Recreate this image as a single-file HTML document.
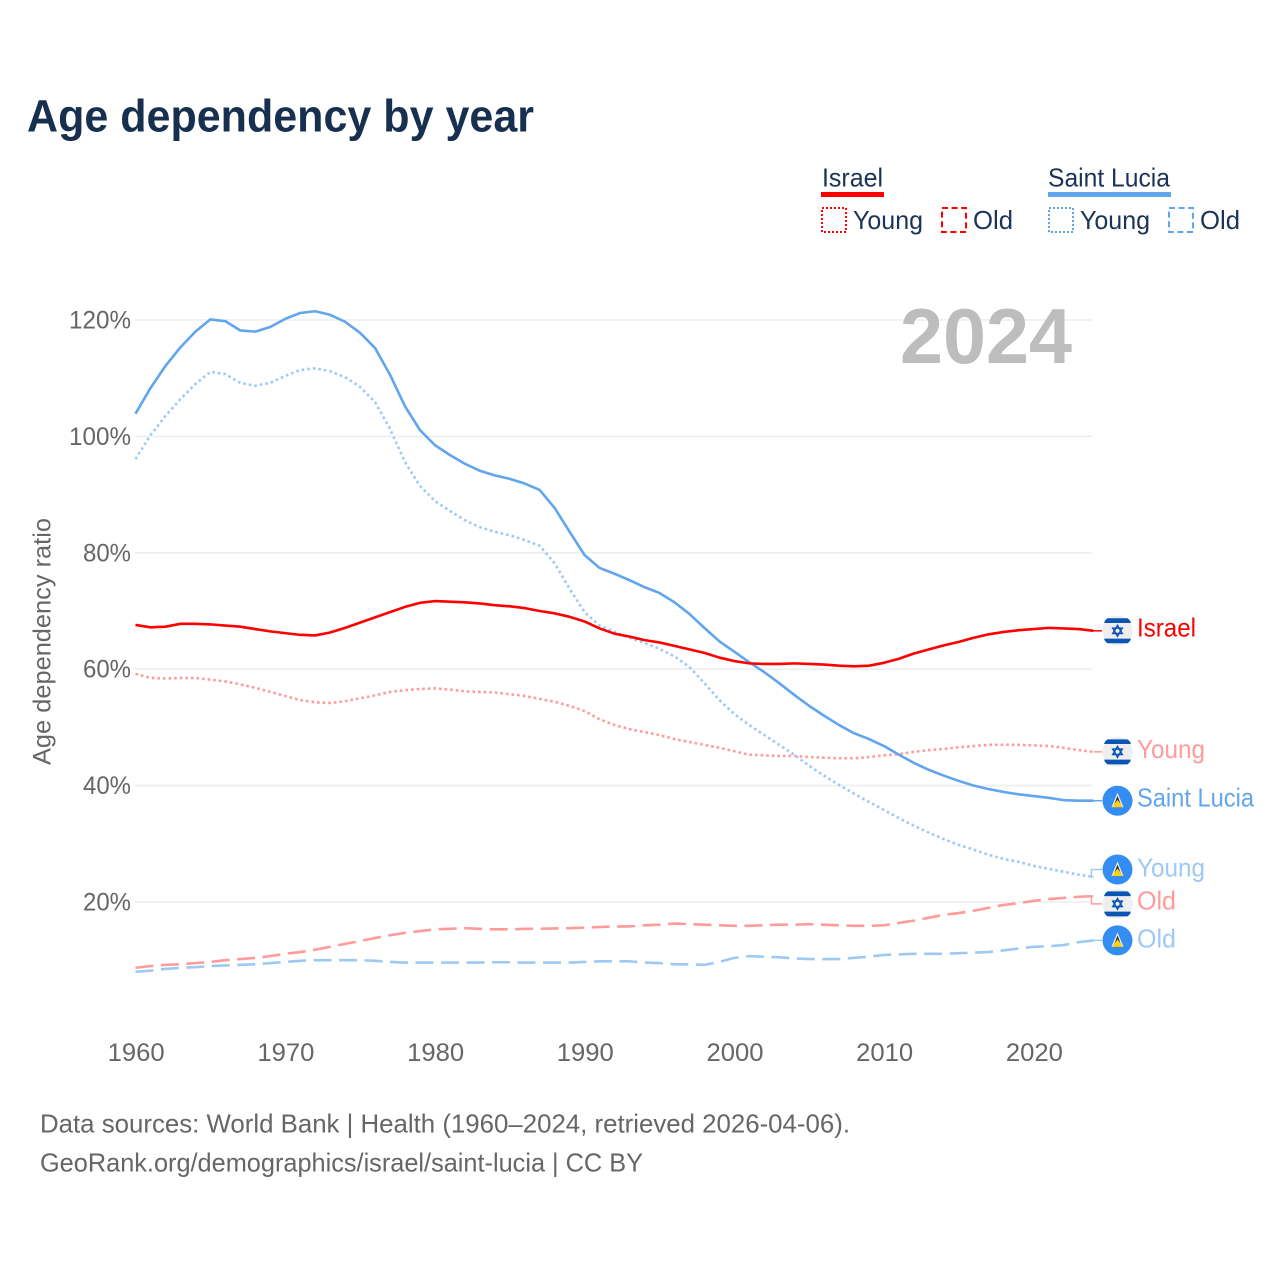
<!DOCTYPE html>
<html lang="en">
<head>
<meta charset="utf-8">
<title>Age dependency by year</title>
<style>
html,body{margin:0;padding:0;background:#fff;width:1280px;height:1280px;overflow:hidden}
svg{display:block}
text{font-family:"Liberation Sans",sans-serif}
</style>
</head>
<body>
<svg id="chart" xmlns="http://www.w3.org/2000/svg" width="1280" height="1280" viewBox="0 0 1280 1280">
  <rect x="0" y="0" width="1280" height="1280" fill="#ffffff"/>
  <text x="27" y="131.5" font-size="45" font-weight="700" fill="#18304f" textLength="507" lengthAdjust="spacingAndGlyphs">Age dependency by year</text>

  <g font-size="26" fill="#1a3357">
    <text x="822" y="186.5" textLength="61" lengthAdjust="spacingAndGlyphs">Israel</text>
    <rect x="821" y="192" width="63" height="5" fill="#ff0000"/>
    <rect x="822" y="208" width="24" height="24" fill="none" stroke="#ff0000" stroke-width="2" stroke-dasharray="2 2"/>
    <text x="853" y="229" textLength="70" lengthAdjust="spacingAndGlyphs">Young</text>
    <rect x="942" y="208" width="24" height="24" fill="none" stroke="#ff0000" stroke-width="2" stroke-dasharray="6 3.6"/>
    <text x="973" y="229" textLength="40" lengthAdjust="spacingAndGlyphs">Old</text>
    <text x="1048" y="186.5" textLength="122" lengthAdjust="spacingAndGlyphs">Saint Lucia</text>
    <rect x="1048" y="192" width="123" height="5" fill="#60a5ee"/>
    <rect x="1049" y="208" width="24" height="24" fill="none" stroke="#60a5ee" stroke-width="2" stroke-dasharray="2 2"/>
    <text x="1080" y="229" textLength="70" lengthAdjust="spacingAndGlyphs">Young</text>
    <rect x="1169" y="208" width="24" height="24" fill="none" stroke="#60a5ee" stroke-width="2" stroke-dasharray="6 3.6"/>
    <text x="1200" y="229" textLength="40" lengthAdjust="spacingAndGlyphs">Old</text>
  </g>

  <g id="grid"></g>
  <text x="900" y="363" font-size="78" font-weight="700" fill="#bdbdbd" textLength="172" lengthAdjust="spacingAndGlyphs">2024</text>
  <text transform="translate(50.5,765) rotate(-90)" x="0" y="0" font-size="25" fill="#666666" textLength="247" lengthAdjust="spacingAndGlyphs">Age dependency ratio</text>
  <g id="y-ticks"></g>
  <g id="x-ticks"></g>
  <g id="series"></g>
  <g id="ends"></g>

  <g font-size="26" fill="#666666">
    <text x="40" y="1132.5" textLength="810" lengthAdjust="spacingAndGlyphs">Data sources: World Bank | Health (1960–2024, retrieved 2026-04-06).</text>
    <text x="40" y="1171.5" textLength="603" lengthAdjust="spacingAndGlyphs">GeoRank.org/demographics/israel/saint-lucia | CC BY</text>
  </g>
</svg>
<script>
const firstYear = 1960;
const xTickYears = [1960, 1970, 1980, 1990, 2000, 2010, 2020];
const yTickValues = [20, 40, 60, 80, 100, 120];

const israelTotal = [67.6,67.2,67.3,67.8,67.8,67.7,67.5,67.3,66.9,66.5,66.2,65.9,65.8,66.3,67.1,68,68.9,69.8,70.7,71.4,71.7,71.6,71.5,71.3,71,70.8,70.5,70,69.6,69,68.2,67,66.1,65.6,65,64.6,64,63.4,62.8,62,61.4,61,60.9,60.9,61,60.9,60.8,60.6,60.5,60.6,61.1,61.8,62.7,63.4,64.1,64.7,65.4,66,66.4,66.7,66.9,67.1,67,66.9,66.6];
const israelYoung = [59.2,58.5,58.4,58.5,58.5,58.2,57.9,57.4,56.8,56.1,55.4,54.7,54.3,54.2,54.5,55,55.5,56.1,56.4,56.6,56.7,56.5,56.2,56.1,56,55.7,55.4,54.9,54.4,53.7,52.8,51.4,50.4,49.7,49.2,48.7,48,47.5,47,46.5,45.9,45.3,45.2,45.1,45.1,44.9,44.8,44.7,44.7,44.9,45.2,45.4,45.8,46.1,46.3,46.6,46.8,47,47,47,46.9,46.8,46.5,46.1,45.8];
const israelOld = [8.7,9,9.2,9.3,9.5,9.7,10,10.2,10.4,10.7,11.1,11.4,11.8,12.3,12.8,13.3,13.8,14.3,14.7,15,15.3,15.4,15.5,15.4,15.3,15.3,15.4,15.4,15.45,15.5,15.6,15.7,15.8,15.8,16,16.1,16.3,16.2,16.1,16,15.9,15.9,16,16.1,16.1,16.2,16.1,16,15.9,15.9,16,16.4,16.8,17.3,17.8,18.1,18.5,19,19.5,19.8,20.2,20.5,20.7,20.9,21];
const luciaTotal = [103.9,108.3,112.1,115.3,118,120.1,119.8,118.2,118,118.8,120.2,121.2,121.5,120.9,119.7,117.8,115.2,110.6,105.2,101.1,98.5,96.8,95.3,94.1,93.3,92.7,91.9,90.8,87.7,83.6,79.6,77.4,76.4,75.3,74.1,73.1,71.5,69.5,67.1,64.8,63,61.2,59.5,57.6,55.6,53.7,52,50.4,49,48,46.8,45.3,43.9,42.7,41.7,40.8,40,39.4,38.9,38.5,38.2,37.9,37.5,37.4,37.4];
const luciaYoung = [96.1,100.2,103.5,106.4,109,111.1,110.7,109.2,108.7,109.2,110.4,111.4,111.7,111.2,110.2,108.5,105.9,101.3,95.6,91.5,88.9,87.2,85.6,84.4,83.6,83,82.2,81.2,78.2,73.8,69.8,67.5,66.4,65.4,64.5,63.5,62.2,60.4,57.6,54.7,52.3,50.4,48.7,47,45.3,43.4,41.7,40.1,38.6,37.2,35.8,34.4,33.1,31.9,30.8,29.8,29,28.1,27.4,26.9,26.2,25.7,25.2,24.7,24.3];
const luciaOld = [8,8.2,8.5,8.7,8.8,9,9.1,9.2,9.3,9.5,9.7,9.9,10,10,10,10,9.9,9.7,9.6,9.6,9.6,9.6,9.6,9.6,9.65,9.65,9.6,9.6,9.6,9.6,9.7,9.8,9.8,9.8,9.6,9.5,9.3,9.3,9.2,9.7,10.4,10.7,10.6,10.5,10.3,10.2,10.2,10.2,10.4,10.6,10.9,11,11.1,11.1,11.1,11.2,11.3,11.4,11.7,12,12.3,12.4,12.6,13.1,13.4];

const svgNS = 'http://www.w3.org/2000/svg';
const xScale = function (year) { return 135.5 + (year - 1960) * 14.97; };
const yScale = function (value) { return 1018.4 - value * 5.82; };

function make(tag, attrs, parent, content) {
  const el = document.createElementNS(svgNS, tag);
  Object.keys(attrs).forEach(function (k) { el.setAttribute(k, attrs[k]); });
  if (content !== undefined) el.textContent = content;
  parent.appendChild(el);
  return el;
}

const gridLayer = document.getElementById('grid');
const yLayer = document.getElementById('y-ticks');
const xLayer = document.getElementById('x-ticks');
const seriesLayer = document.getElementById('series');
const endLayer = document.getElementById('ends');

yTickValues.forEach(function (v) {
  const line = make('line', {x1: 135, x2: 1092, y1: yScale(v), y2: yScale(v), stroke: '#eeeeee', 'stroke-width': 1.6}, gridLayer);
  
  
  const s = v + '%';
  const label = make('text', {x: 131, y: yScale(v) + 8.5, 'text-anchor': 'end', 'font-size': 25, fill: '#666666', textLength: s.length === 4 ? 62 : 48, lengthAdjust: 'spacingAndGlyphs'}, yLayer, s);
  
  
});

xTickYears.forEach(function (yr) {
  const label = make('text', {x: xScale(yr) + 0.7, y: 1061, 'text-anchor': 'middle', 'font-size': 25, fill: '#666666', textLength: 57, lengthAdjust: 'spacingAndGlyphs'}, xLayer, String(yr));
  
  
});

function linePath(values) {
  return values.map(function (v, i) {
    return (i ? 'L' : 'M') + xScale(firstYear + i).toFixed(2) + ' ' + yScale(v).toFixed(2);
  }).join('');
}

function drawLine(values, color, dash, name) {
  const attrs = {d: linePath(values), fill: 'none', stroke: color, 'stroke-width': 2.6, 'stroke-linejoin': 'round'};
  if (dash) attrs['stroke-dasharray'] = dash;
  const p = make('path', attrs, seriesLayer);
  
  
}

const FLAG_X = 1117.5;
const LABEL_X = 1137;

function drawIsraelFlag(cy) {
  const g = make('g', {}, endLayer);
  
  
  make('circle', {cx: FLAG_X, cy: cy, r: 15, fill: '#eeeeee'}, g);
  make('path', {d: 'M' + (FLAG_X - 10) + ' ' + (cy - 12.5) + 'H' + (FLAG_X + 10) + 'Q' + (FLAG_X + 13) + ' ' + (cy - 10.5) + ' ' + (FLAG_X + 13.4) + ' ' + (cy - 7.8) + 'H' + (FLAG_X - 13.4) + 'Q' + (FLAG_X - 13) + ' ' + (cy - 10.5) + ' ' + (FLAG_X - 10) + ' ' + (cy - 12.5) + 'Z', fill: '#0b55b5'}, g);
  make('path', {d: 'M' + (FLAG_X - 13.4) + ' ' + (cy + 7.8) + 'H' + (FLAG_X + 13.4) + 'Q' + (FLAG_X + 13) + ' ' + (cy + 10.5) + ' ' + (FLAG_X + 10) + ' ' + (cy + 12.5) + 'H' + (FLAG_X - 10) + 'Q' + (FLAG_X - 13) + ' ' + (cy + 10.5) + ' ' + (FLAG_X - 13.4) + ' ' + (cy + 7.8) + 'Z', fill: '#0b55b5'}, g);
  [-1, 1].forEach(function (d) {
    const pts = [[0, -5.4 * d], [4.7, 2.7 * d], [-4.7, 2.7 * d]].map(function (p) { return (FLAG_X + p[0]) + ',' + (cy + p[1]); }).join(' ');
    make('polygon', {points: pts, fill: 'none', stroke: '#0b55b5', 'stroke-width': 1.5}, g);
  });
}

function drawLuciaFlag(cy) {
  const g = make('g', {}, endLayer);
  
  
  make('circle', {cx: FLAG_X, cy: cy, r: 15, fill: '#348df2'}, g);
  make('polygon', {points: FLAG_X + ',' + (cy - 8) + ' ' + (FLAG_X + 6) + ',' + (cy + 6.5) + ' ' + (FLAG_X - 6) + ',' + (cy + 6.5), fill: '#f2f2f2'}, g);
  make('polygon', {points: FLAG_X + ',' + (cy - 5) + ' ' + (FLAG_X + 4.4) + ',' + (cy + 6.5) + ' ' + (FLAG_X - 4.4) + ',' + (cy + 6.5), fill: '#333333'}, g);
  make('polygon', {points: FLAG_X + ',' + (cy - 1) + ' ' + (FLAG_X + 5.6) + ',' + (cy + 6.5) + ' ' + (FLAG_X - 5.6) + ',' + (cy + 6.5), fill: '#fcd116'}, g);
}

function drawEnd(values, color, nudge, textOffset, text, textWidth, flag, name) {
  const yEnd = yScale(values[values.length - 1]);
  const cy = yEnd + nudge;
  const d = 'M' + xScale(2024) + ' ' + yEnd + 'H1091.5V' + cy + 'H1102';
  const conn = make('path', {d: nudge ? d : 'M' + xScale(2024) + ' ' + yEnd + 'H1102', fill: 'none', stroke: color, 'stroke-width': 1.5}, endLayer);
  
  
  flag(cy);
  const label = make('text', {x: LABEL_X, y: cy + textOffset, 'font-size': 26, fill: color, textLength: textWidth, lengthAdjust: 'spacingAndGlyphs'}, endLayer, text);
  
  
}

const RED = '#ff0000';
const RED_LIGHT = '#ff9b9b';
const BLUE = '#60a5ee';
const BLUE_LIGHT = '#9fc9f5';
const DOT = '2.6 3';
const DASH = '18 7.5';

drawLine(luciaOld, BLUE_LIGHT, DASH, 'saint-lucia-old-line');
drawLine(israelOld, RED_LIGHT, DASH, 'israel-old-line');
drawLine(israelYoung, RED_LIGHT, DOT, 'israel-young-line');
drawLine(luciaYoung, BLUE_LIGHT, DOT, 'saint-lucia-young-line');
drawLine(luciaTotal, BLUE, null, 'saint-lucia-total-line');
drawLine(israelTotal, RED, null, 'israel-total-line');

drawEnd(israelTotal, RED, 0, 5.8, 'Israel', 59, drawIsraelFlag, 'israel-total');
drawEnd(israelYoung, RED_LIGHT, 0, 6, 'Young', 68, drawIsraelFlag, 'israel-young');
drawEnd(luciaTotal, BLUE, 0, 6, 'Saint Lucia', 117, drawLuciaFlag, 'saint-lucia-total');
drawEnd(luciaYoung, BLUE_LIGHT, -7.5, 7, 'Young', 68, drawLuciaFlag, 'saint-lucia-young');
drawEnd(israelOld, RED_LIGHT, 7.7, 5.5, 'Old', 39, drawIsraelFlag, 'israel-old');
drawEnd(luciaOld, BLUE_LIGHT, 0, 7, 'Old', 39, drawLuciaFlag, 'saint-lucia-old');
</script>
</body>
</html>
